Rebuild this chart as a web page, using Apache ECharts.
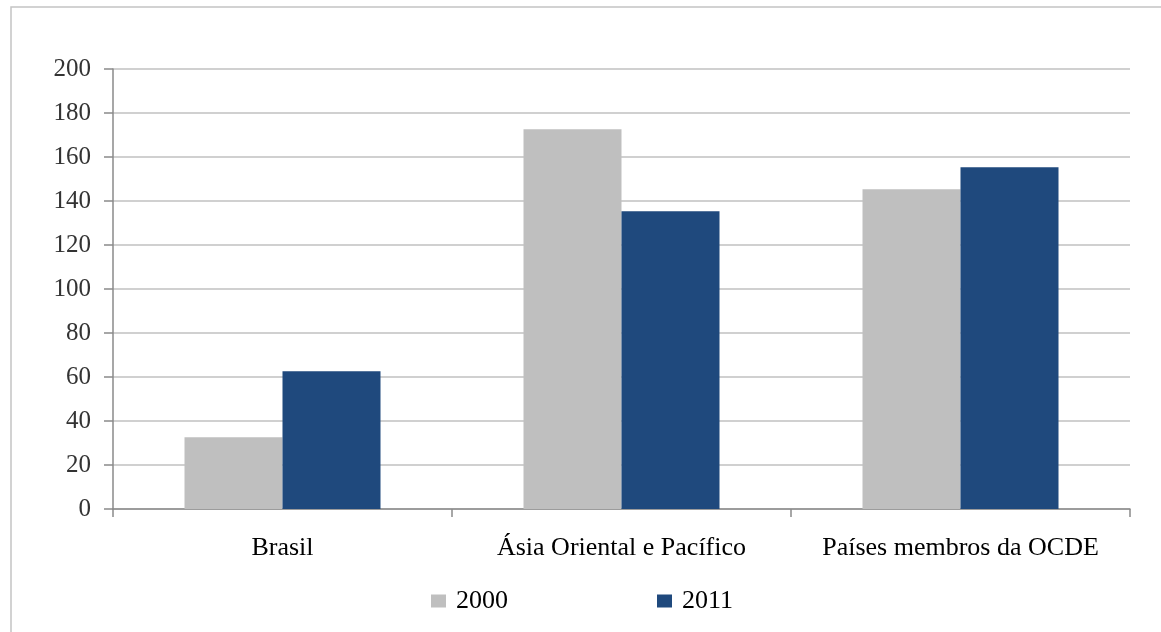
<!DOCTYPE html>
<html>
<head>
<meta charset="utf-8">
<script src="https://cdn.jsdelivr.net/npm/echarts@6/dist/echarts.min.js"></script>
<style>html,body{margin:0;padding:0;background:#fff;}#c{width:1161px;height:632px;}</style>
</head>
<body>
<div id="c"></div>
<script>
const categories = ['Brasil', 'Ásia Oriental e Pacífico', 'Países membros da OCDE'];
const seriesNames = ['2000', '2011'];
const values2000 = [32.6, 172.6, 145.3];
const values2011 = [62.6, 135.3, 155.3];
const yTicks = [0, 20, 40, 60, 80, 100, 120, 140, 160, 180, 200];

const font = '"Liberation Serif", "Times New Roman", serif';
const chart = echarts.init(document.getElementById('c'));
chart.setOption({
  animation: false,
  backgroundColor: '#ffffff',
  graphic: [{
    type: 'rect',
    shape: { x: 11, y: 7, width: 1300, height: 800 },
    style: { fill: 'none', stroke: '#c4c4c4', lineWidth: 1.5 },
    silent: true
  }],
  grid: { left: 113, right: 31, top: 69, bottom: 123, containLabel: false },
  legend: {
    data: seriesNames,
    left: 426,
    top: 583,
    itemWidth: 15,
    itemHeight: 13,
    itemGap: 149,
    icon: 'rect',
    textStyle: { fontFamily: font, fontSize: 26, color: '#000', padding: [0, 0, 0, 5] }
  },
  xAxis: {
    type: 'category',
    data: categories,
    axisLine: { lineStyle: { color: '#8a8a8a', width: 1.5 } },
    axisTick: { show: true, length: 8, lineStyle: { color: '#8a8a8a', width: 1.5 } },
    axisLabel: { interval: 0, margin: 26, fontFamily: font, fontSize: 26, color: '#000' }
  },
  yAxis: {
    type: 'value',
    min: yTicks[0],
    max: yTicks[yTicks.length - 1],
    interval: 20,
    axisLine: { show: true, lineStyle: { color: '#8a8a8a', width: 1.5 } },
    axisTick: { show: true, length: 9, lineStyle: { color: '#8a8a8a', width: 1.5 } },
    axisLabel: { margin: 22, fontFamily: font, fontSize: 25, color: '#333' },
    splitLine: { lineStyle: { color: '#c0c0c0', width: 1.5 } }
  },
  series: [
    { name: seriesNames[0], type: 'bar', data: values2000, barWidth: 98, barGap: '0%', itemStyle: { color: '#bfbfbf' } },
    { name: seriesNames[1], type: 'bar', data: values2011, barWidth: 98, barGap: '0%', itemStyle: { color: '#1f497d' } }
  ]
});
</script>
</body>
</html>
